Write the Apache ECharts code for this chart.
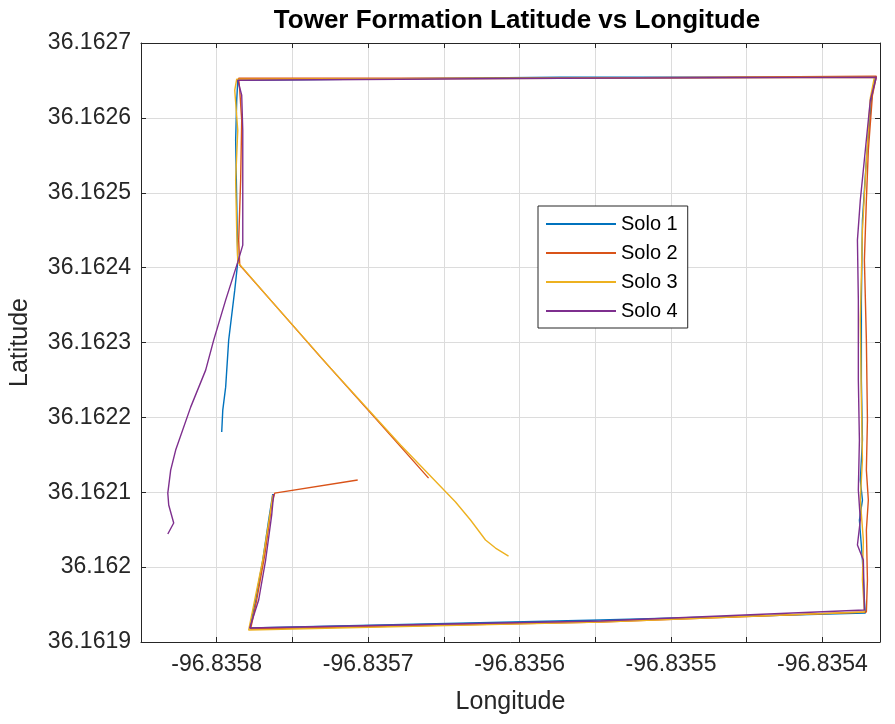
<!DOCTYPE html>
<html>
<head>
<meta charset="utf-8">
<script src="https://cdn.jsdelivr.net/npm/echarts@6/dist/echarts.min.js"></script>
<style>
  html, body { margin: 0; padding: 0; background: #ffffff; }
  #chart { width: 895px; height: 724px; }
</style>
</head>
<body>
<div id="chart"></div>
<script>
// Flight tracks of the four drones, [longitude, latitude]
const seriesNames = ['Solo 1', 'Solo 2', 'Solo 3', 'Solo 4'];

const solo1 = [
  [-96.8357967, 36.1621804], [-96.8357960, 36.1622097], [-96.8357941, 36.1622404],
  [-96.8357921, 36.1623032], [-96.8357881, 36.1623699], [-96.8357861, 36.1624073],
  [-96.8357868, 36.1624901], [-96.8357875, 36.1625702], [-96.8357868, 36.1626236],
  [-96.8357861, 36.1626503], [-96.8355730, 36.1626543], [-96.8353651, 36.1626543],
  [-96.8353677, 36.1626236], [-96.8353710, 36.1625435], [-96.8353736, 36.1624634],
  [-96.8353743, 36.1623566], [-96.8353743, 36.1622498], [-96.8353736, 36.1621697],
  [-96.8353750, 36.1621163], [-96.8353736, 36.1620896], [-96.8353756, 36.1620629],
  [-96.8353736, 36.1620095], [-96.8353723, 36.1619561], [-96.8353717, 36.1619387],
  [-96.8355466, 36.1619294], [-96.8357782, 36.1619187], [-96.8357743, 36.1619561],
  [-96.8357696, 36.1620095], [-96.8357657, 36.1620629], [-96.8357630, 36.1620976]
];

const solo2 = [
  [-96.8356601, 36.1621189], [-96.8356918, 36.1621910], [-96.8357314, 36.1622805],
  [-96.8357644, 36.1623566], [-96.8357848, 36.1624033], [-96.8357855, 36.1624367],
  [-96.8357842, 36.1625168], [-96.8357835, 36.1625969], [-96.8357848, 36.1626369],
  [-96.8357855, 36.1626529], [-96.8355730, 36.1626529], [-96.8353644, 36.1626556],
  [-96.8353670, 36.1626302], [-96.8353697, 36.1625568], [-96.8353710, 36.1624901],
  [-96.8353723, 36.1624100], [-96.8353710, 36.1623032], [-96.8353703, 36.1621964],
  [-96.8353710, 36.1621296], [-96.8353697, 36.1620896], [-96.8353710, 36.1620495],
  [-96.8353703, 36.1619828], [-96.8353710, 36.1619400], [-96.8355466, 36.1619267],
  [-96.8357776, 36.1619174], [-96.8357736, 36.1619561], [-96.8357683, 36.1620161],
  [-96.8357637, 36.1620829], [-96.8357617, 36.1620989], [-96.8357069, 36.1621163]
];

const solo3 = [
  [-96.8356073, 36.1620148], [-96.8356159, 36.1620255], [-96.8356225, 36.1620362],
  [-96.8356324, 36.1620629], [-96.8356423, 36.1620869], [-96.8356786, 36.1621630],
  [-96.8357248, 36.1622658], [-96.8357644, 36.1623566], [-96.8357861, 36.1624073],
  [-96.8357868, 36.1624500], [-96.8357875, 36.1625168], [-96.8357861, 36.1625835],
  [-96.8357881, 36.1626369], [-96.8357868, 36.1626516], [-96.8355730, 36.1626529],
  [-96.8353657, 36.1626543], [-96.8353684, 36.1626262], [-96.8353710, 36.1625435],
  [-96.8353736, 36.1624500], [-96.8353750, 36.1623299], [-96.8353743, 36.1622231],
  [-96.8353736, 36.1621430], [-96.8353750, 36.1620896], [-96.8353730, 36.1620362],
  [-96.8353736, 36.1619828], [-96.8353723, 36.1619400], [-96.8355466, 36.1619267],
  [-96.8357789, 36.1619160], [-96.8357749, 36.1619561], [-96.8357696, 36.1620095],
  [-96.8357644, 36.1620762], [-96.8357630, 36.1620962]
];

const solo4 = [
  [-96.8358323, 36.1620442], [-96.8358284, 36.1620589], [-96.8358317, 36.1620829],
  [-96.8358323, 36.1620989], [-96.8358304, 36.1621296], [-96.8358271, 36.1621563],
  [-96.8358172, 36.1622137], [-96.8358073, 36.1622631], [-96.8358020, 36.1623032],
  [-96.8357941, 36.1623566], [-96.8357861, 36.1624073], [-96.8357828, 36.1624300],
  [-96.8357828, 36.1625034], [-96.8357828, 36.1625835], [-96.8357835, 36.1626302],
  [-96.8357861, 36.1626503], [-96.8355730, 36.1626529], [-96.8353644, 36.1626543],
  [-96.8353684, 36.1626236], [-96.8353717, 36.1625568], [-96.8353750, 36.1624901],
  [-96.8353769, 36.1624367], [-96.8353763, 36.1623566], [-96.8353763, 36.1622498],
  [-96.8353756, 36.1621697], [-96.8353763, 36.1621029], [-96.8353750, 36.1620629],
  [-96.8353769, 36.1620295], [-96.8353730, 36.1620095], [-96.8353723, 36.1619427],
  [-96.8355466, 36.1619280], [-96.8357782, 36.1619187], [-96.8357723, 36.1619561],
  [-96.8357677, 36.1620095], [-96.8357637, 36.1620695], [-96.8357624, 36.1620976]
];

const tracks = [solo1, solo2, solo3, solo4];
const colors = ['#0072BD', '#D95319', '#EDB120', '#7E2F8E'];

// Axis extents
const lonMin = -96.83585, lonMax = -96.835362, lonStep = 0.00005;
const latMin = 36.1619, latMax = 36.1627, latStep = 0.0001;

const FONT = "'Liberation Sans', Arial, Helvetica, sans-serif";
const INK = '#262626';

function lonLabel(v) {
  const k = Math.round(v * 1e5);
  return (k % 10 === 0) ? (k / 1e5).toFixed(4) : '';
}
function latLabel(v) {
  return String(parseFloat(v.toFixed(4)));
}

const chart = echarts.init(document.getElementById('chart'), null, { renderer: 'canvas' });

const frameAxis = {
  axisLine: { show: true, onZero: false, lineStyle: { color: INK, width: 1 } },
  axisTick: { show: true, inside: true, length: 5, lineStyle: { color: INK } },
  axisLabel: { show: false },
  splitLine: { show: false }
};

chart.setOption({
  animation: false,
  backgroundColor: '#ffffff',
  title: {
    text: 'Tower Formation Latitude vs Longitude',
    left: 512, top: 3, textAlign: 'center',
    textStyle: { fontFamily: FONT, fontWeight: 'bold', fontSize: 26, color: '#000000' }
  },
  grid: { left: 140, right: 15, top: 43, bottom: 82, containLabel: false },
  legend: {
    data: seriesNames,
    orient: 'vertical',
    left: 538, top: 206,
    itemWidth: 70, itemHeight: 14, itemGap: 9,
    padding: [8, 10, 7, 7],
    borderColor: INK, borderWidth: 1,
    backgroundColor: '#ffffff',
    selectedMode: false,
    itemStyle: { opacity: 0, borderWidth: 0 },
    textStyle: { fontFamily: FONT, fontSize: 20, color: '#000000', lineHeight: 20 }
  },
  xAxis: [
    {
      type: 'value', position: 'bottom',
      min: lonMin, max: lonMax, interval: lonStep,
      name: 'Longitude', nameLocation: 'middle', nameGap: 48,
      nameTextStyle: { fontFamily: FONT, fontSize: 25, color: INK },
      axisLine: { show: true, onZero: false, lineStyle: { color: INK, width: 1 } },
      axisTick: { show: true, inside: true, length: 5, lineStyle: { color: INK } },
      axisLabel: { formatter: lonLabel, margin: 11, fontFamily: FONT, fontSize: 23, color: INK,
                   showMaxLabel: false },
      splitLine: { show: true, lineStyle: { color: '#dcdcdc', width: 1 } }
    },
    Object.assign({ type: 'value', position: 'top', min: lonMin, max: lonMax, interval: lonStep }, frameAxis)
  ],
  yAxis: [
    {
      type: 'value', position: 'left',
      min: latMin, max: latMax, interval: latStep,
      name: 'Latitude', nameLocation: 'middle', nameGap: 108, nameRotate: 90,
      nameTextStyle: { fontFamily: FONT, fontSize: 25, color: INK },
      axisLine: { show: true, onZero: false, lineStyle: { color: INK, width: 1 } },
      axisTick: { show: true, inside: true, length: 5, lineStyle: { color: INK } },
      axisLabel: { formatter: latLabel, margin: 10, fontFamily: FONT, fontSize: 23, color: INK },
      splitLine: { show: true, lineStyle: { color: '#dcdcdc', width: 1 } }
    },
    Object.assign({ type: 'value', position: 'right', min: latMin, max: latMax, interval: latStep }, frameAxis)
  ],
  series: tracks.map((data, i) => ({
    name: seriesNames[i],
    type: 'line',
    xAxisIndex: 0, yAxisIndex: 0,
    data: data,
    symbol: 'none', showSymbol: false,
    smooth: false,
    color: colors[i],
    lineStyle: { color: colors[i], width: 1.4 },
    emphasis: { disabled: true },
    z: 2 + i
  }))
});
</script>
</body>
</html>
